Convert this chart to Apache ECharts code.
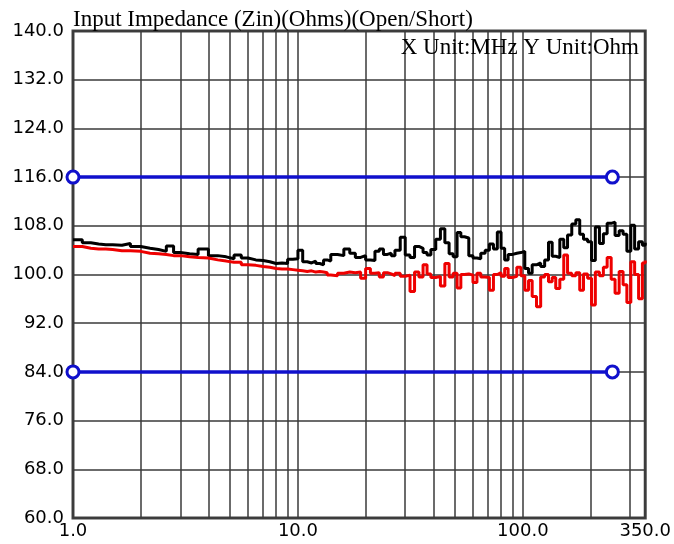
<!DOCTYPE html>
<html>
<head>
<meta charset="utf-8">
<script src="https://cdn.jsdelivr.net/npm/echarts@6/dist/echarts.min.js"></script>
<style>html,body{margin:0;padding:0;background:#fff}#c{width:674px;height:544px}</style>
</head>
<body>
<div id="c"></div>
<script>
const freqMHz = [1, 1.1, 1.2, 1.3, 1.4, 1.5, 1.65, 1.8, 2, 2.2, 2.4, 2.6, 2.8, 3, 3.3, 3.6, 4, 4.4, 4.8, 5.2, 5.6, 6, 6.5, 7, 7.5, 8, 8.5, 9, 9.5,
  10, 10.5, 11, 11.5, 12, 12.5, 13, 13.5, 14, 15, 16, 17, 18, 19, 20, 21, 22, 23, 24, 25, 26, 27, 28.5, 30, 31.5, 33, 34.5, 36, 37.5, 39,
  41, 43, 45, 47, 49, 51, 53, 55, 57.5, 60, 62.5, 65, 68, 71, 74, 77, 80, 83, 86, 90, 94, 98, 102, 106, 110, 115, 120, 125, 130, 135, 140,
  146, 152, 158, 165, 172, 179, 186, 194, 202, 210, 219, 228, 237, 247, 257, 268, 279, 290, 302, 314, 327, 340, 350];

const zinOpen = [105.7, 105.2, 105.0, 104.9, 104.9, 104.8, 105.1, 104.6, 104.3, 104.1, 103.8, 104.7, 103.6, 103.4, 103.3, 104.2, 103.1, 102.9, 102.6, 103.2, 102.7, 102.4, 102.3, 102.1, 101.8, 101.9, 101.8, 102.5, 102.6,
  104.0, 102.1, 101.9, 102.2, 101.8, 101.6, 102.4, 102.2, 103.3, 103.1, 104.2, 103.5, 102.8, 103.1, 102.4, 102.3, 103.8, 104.2, 103.3, 103.5, 103.1, 104.0, 106.1, 103.2, 102.8, 104.6, 104.3, 103.6, 103.2, 104.1,
  105.8, 107.5, 105.2, 103.4, 102.9, 106.9, 106.2, 106.0, 103.1, 102.7, 102.6, 103.5, 104.0, 105.0, 104.2, 107.0, 104.3, 102.4, 103.3, 103.5, 103.6, 103.8, 101.0, 100.2, 101.6, 101.9, 101.3, 102.4, 105.3, 103.0, 102.8,
  105.8, 104.4, 106.5, 108.3, 109.0, 106.6, 105.8, 105.4, 102.3, 107.8, 105.1, 106.7, 108.4, 108.6, 106.4, 107.2, 106.6, 103.8, 108.1, 104.2, 105.4, 104.8, 105.2];

const zinShort = [104.6, 104.3, 104.2, 104.2, 104.1, 103.9, 103.9, 103.8, 103.5, 103.4, 103.3, 103.1, 103.1, 102.9, 102.8, 102.7, 102.4, 102.2, 102.0, 102.0, 101.6, 101.5, 101.3, 101.2, 101.0, 100.9, 100.9, 100.8, 100.7,
  100.6, 100.5, 100.6, 100.4, 100.5, 100.4, 100.3, 99.9, 99.8, 100.2, 100.4, 100.3, 100.4, 99.4, 101.0, 100.2, 100.3, 99.6, 100.3, 100.1, 99.8, 100.2, 99.7, 99.9, 97.2, 100.4, 99.6, 101.6, 100.1, 99.5,
  99.7, 98.1, 101.8, 99.6, 100.2, 97.8, 100.0, 100.1, 99.9, 98.7, 100.2, 99.6, 99.5, 97.4, 100.0, 100.3, 99.7, 101.0, 99.5, 99.7, 101.2, 99.8, 97.4, 99.0, 96.4, 94.7, 99.6, 100.0, 98.8, 99.5, 97.7,
  99.2, 103.2, 100.2, 99.8, 100.3, 97.4, 100.1, 99.4, 95.0, 100.4, 99.8, 101.2, 102.8, 99.2, 96.9, 100.5, 98.3, 95.4, 102.1, 100.0, 96.0, 101.9, 102.3];

const limitFreq = [1, 250];
const upperLimit = [116, 116];
const lowerLimit = [84, 84];

const xLabelValues = [1, 10, 100, 350];
const xGridValues = [1, 2, 3, 4, 5, 6, 7, 8, 9, 10, 20, 30, 40, 50, 60, 70, 80, 90, 100, 200, 300, 350];

const pair = (xs, ys) => xs.map((x, i) => [x, ys[i]]);

const chart = echarts.init(document.getElementById('c'), null, {renderer: 'canvas'});
const gridColor = '#3a3a3a';
const blue = '#1010cc';
chart.setOption({
  animation: false,
  backgroundColor: '#ffffff',
  title: [
    {text: 'Input Impedance (Zin)(Ohms)(Open/Short)', left: 68, top: 3,
     textStyle: {fontFamily: 'Liberation Serif', fontSize: 23, fontWeight: 'normal', color: '#000'}},
    {text: 'X Unit:MHz Y Unit:Ohm', right: 30, top: 31,
     textStyle: {fontFamily: 'Liberation Serif', fontSize: 23, fontWeight: 'normal', color: '#000'}}
  ],
  grid: {left: 73, right: 27, top: 31, bottom: 26, show: true, borderColor: '#444', borderWidth: 3, backgroundColor: '#fff', containLabel: false},
  xAxis: {
    type: 'log', logBase: 10, min: 1, max: 350,
    axisLine: {show: false},
    axisTick: {show: false, customValues: xGridValues},
    axisLabel: {customValues: xLabelValues, formatter: v => Number(v).toFixed(1), fontFamily: 'DejaVu Sans', fontSize: 18, color: '#000', margin: 4},
    splitLine: {show: true, lineStyle: {color: gridColor, width: 1.5}}
  },
  yAxis: {
    type: 'value', min: 60, max: 140, interval: 8,
    axisLine: {show: false},
    axisTick: {show: false},
    axisLabel: {formatter: v => v.toFixed(1), fontFamily: 'DejaVu Sans', fontSize: 18, color: '#000', margin: 9},
    splitLine: {show: true, lineStyle: {color: gridColor, width: 1.5}}
  },
  series: [
    {name: 'Open', type: 'line', step: 'end', data: pair(freqMHz, zinOpen), showSymbol: false, symbol: 'none',
     lineStyle: {color: '#000000', width: 3}, z: 3},
    {name: 'Short', type: 'line', step: 'end', data: pair(freqMHz, zinShort), showSymbol: false, symbol: 'none',
     lineStyle: {color: '#ee0000', width: 3}, z: 4},
    {name: 'Upper', type: 'line', data: pair(limitFreq, upperLimit), symbol: 'circle', symbolSize: 12, clip: false,
     lineStyle: {color: blue, width: 3.5}, itemStyle: {color: '#ffffff', borderColor: blue, borderWidth: 3}, z: 5},
    {name: 'Lower', type: 'line', data: pair(limitFreq, lowerLimit), symbol: 'circle', symbolSize: 12, clip: false,
     lineStyle: {color: blue, width: 3.5}, itemStyle: {color: '#ffffff', borderColor: blue, borderWidth: 3}, z: 5}
  ]
});
</script>
</body>
</html>
